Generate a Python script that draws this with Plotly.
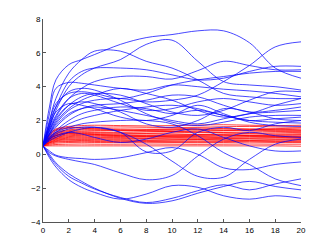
import plotly.graph_objects as go

# sample positions along x (time)
t = [0, 0.5, 1, 2, 3, 4, 6, 8, 10, 12, 14, 16, 18, 20]

# ---- blue trajectories (values at t) ----
b_D = [0.5, 2.8, 4.4, 5.3, 5.6, 5.9, 6.5, 6.9, 7.08, 7.3, 7.3, 6.6, 5.1, 4.5]
b_E = [0.5, 1.6, 2.6, 4.0, 4.7, 5.1, 5.6, 6.5, 6.75, 5.5, 4.3, 4.1, 4.0, 3.8]
b_B = [0.5, 2.0, 3.3, 4.8, 5.6, 6.1, 6.1, 5.5, 5.1, 4.4, 3.6, 3.4, 3.3, 3.3]
b_F = [0.5, 1.2, 1.8, 2.6, 3.0, 3.2, 3.3, 3.1, 3.2, 3.5, 4.3, 5.25, 6.35, 6.65]
b_G = [0.5, 1.4, 2.2, 3.3, 3.9, 4.3, 4.6, 4.6, 4.45, 4.95, 5.5, 5.25, 5.0, 5.0]
b_H = [0.5, 1.7, 2.8, 4.3, 4.9, 5.1, 5.1, 5.0, 4.7, 4.4, 4.5, 4.9, 5.2, 5.2]
b_I = [0.5, 2.4, 3.9, 4.25, 4.2, 4.1, 3.9, 3.8, 4.1, 4.0, 3.85, 3.75, 3.6, 3.4]
b_J = [0.5, 1.3, 2.0, 2.9, 3.4, 3.6, 3.5, 3.0, 2.5, 2.3, 2.6, 3.2, 3.7, 3.7]
b_K = [0.5, 1.5, 2.3, 3.3, 3.6, 3.5, 3.0, 2.6, 2.7, 3.1, 3.3, 3.1, 2.9, 3.0]
b_L = [0.5, 1.1, 1.6, 2.3, 2.7, 2.9, 3.0, 3.2, 3.5, 3.4, 2.9, 2.5, 2.6, 2.8]
b_M = [0.5, 1.2, 1.7, 2.4, 2.7, 2.8, 2.6, 2.3, 2.0, 1.8, 2.1, 2.4, 2.5, 2.6]
b_N = [0.5, 1.8, 2.8, 3.7, 3.9, 3.8, 3.2, 2.4, 1.9, 1.7, 1.9, 2.2, 2.3, 2.3]
b_O = [0.5, 1.0, 1.4, 2.0, 2.4, 2.6, 2.8, 2.7, 2.4, 2.6, 2.3, 2.0, 2.1, 2.2]
b_P = [0.5, 1.4, 2.1, 2.9, 3.1, 3.0, 2.5, 1.8, 1.6, 2.0, 2.7, 2.5, 2.1, 2.0]
b_Q = [0.5, 0.9, 1.3, 1.8, 2.1, 2.3, 2.6, 2.8, 2.9, 2.7, 2.3, 2.0, 1.9, 1.85]
b_R = [0.5, 1.6, 2.5, 3.0, 2.9, 2.7, 2.2, 2.0, 2.3, 2.9, 2.4, 1.9, 1.7, 1.65]
b_S = [0.5, 1.9, 3.0, 3.6, 3.7, 3.6, 3.3, 3.6, 4.1, 4.4, 4.6, 4.8, 4.9, 4.9]
b_T = [0.5, 1.2, 1.9, 2.7, 3.2, 3.5, 3.9, 3.6, 3.2, 2.6, 2.2, 2.4, 2.9, 3.3]
b_L1 = [0.5, -0.2, -0.75, -1.5, -1.95, -2.25, -2.65, -2.35, -1.85, -1.95, -2.45, -2.65, -2.45, -2.6]
b_L2 = [0.5, -0.1, -0.6, -1.3, -1.7, -2.05, -2.55, -2.85, -2.6, -2.15, -1.8, -2.1, -1.75, -1.45]
b_L3 = [0.5, 0.0, -0.5, -1.15, -1.6, -2.0, -2.6, -2.9, -2.75, -2.3, -1.9, -1.6, -1.9, -2.1]
b_L4 = [0.5, 0.1, -0.1, -0.3, -0.45, -0.6, -1.1, -1.5, -1.25, -0.1, 0.9, 1.3, 1.1, 1.0]
b_L5 = [0.5, 0.8, 1.0, 1.3, 1.5, 1.6, 1.3, 0.15, 0.2, 1.3, 1.6, 1.4, 1.8, 2.0]
b_L6 = [0.5, 0.9, 1.2, 1.5, 1.6, 1.6, 1.3, 0.6, -0.4, -1.3, -1.35, -0.3, 0.6, 0.9]
b_L7 = [0.5, 1.0, 1.3, 1.6, 1.8, 1.9, 2.0, 2.0, 1.8, 1.1, 0.1, -0.6, -1.45, -1.85]
b_L8 = [0.5, 0.2, -0.05, -0.2, -0.25, -0.3, -0.2, 0.1, 0.4, 0.0, -0.8, -0.9, -0.6, -0.45]
b_L9 = [0.5, 0.9, 1.1, 1.3, 1.2, 1.0, 0.7, 0.9, 1.3, 1.5, 1.0, 0.5, 0.2, 0.2]

blue = [b_D, b_E, b_B, b_F, b_G, b_H, b_I, b_J, b_K, b_L, b_M, b_N, b_O, b_P,
        b_Q, b_R, b_S, b_T, b_L1, b_L2, b_L3, b_L4, b_L5, b_L6, b_L7, b_L8, b_L9]

# ---- red trajectories ----
r01 = [0.5, 1.2, 1.5, 1.65, 1.7, 1.72, 1.7, 1.68, 1.7, 1.73, 1.75, 1.72, 1.7, 1.72]
r02 = [0.5, 1.1, 1.4, 1.55, 1.6, 1.6, 1.62, 1.6, 1.58, 1.6, 1.63, 1.65, 1.62, 1.6]
r03 = [0.5, 1.05, 1.3, 1.45, 1.5, 1.52, 1.5, 1.48, 1.5, 1.55, 1.52, 1.5, 1.52, 1.55]
r04 = [0.5, 1.0, 1.25, 1.4, 1.45, 1.45, 1.42, 1.45, 1.48, 1.45, 1.42, 1.45, 1.48, 1.45]
r05 = [0.5, 0.95, 1.2, 1.35, 1.38, 1.4, 1.4, 1.38, 1.35, 1.38, 1.4, 1.42, 1.4, 1.38]
r06 = [0.5, 0.95, 1.15, 1.3, 1.33, 1.32, 1.3, 1.33, 1.35, 1.32, 1.3, 1.32, 1.35, 1.33]
r07 = [0.5, 0.9, 1.1, 1.25, 1.28, 1.28, 1.25, 1.24, 1.27, 1.3, 1.28, 1.25, 1.27, 1.3]
r08 = [0.5, 0.9, 1.08, 1.2, 1.22, 1.22, 1.2, 1.22, 1.2, 1.18, 1.2, 1.22, 1.2, 1.22]
r09 = [0.5, 0.85, 1.02, 1.15, 1.18, 1.17, 1.15, 1.13, 1.15, 1.17, 1.15, 1.13, 1.15, 1.17]
r10 = [0.5, 0.85, 1.0, 1.1, 1.12, 1.12, 1.1, 1.12, 1.1, 1.08, 1.1, 1.12, 1.1, 1.1]
r11 = [0.5, 0.8, 0.95, 1.05, 1.07, 1.07, 1.05, 1.04, 1.06, 1.05, 1.03, 1.05, 1.07, 1.05]
r12 = [0.5, 0.8, 0.92, 1.0, 1.02, 1.01, 1.0, 1.02, 1.0, 0.98, 1.0, 1.02, 1.0, 0.98]
r13 = [0.5, 0.75, 0.88, 0.95, 0.97, 0.97, 0.95, 0.94, 0.96, 0.95, 0.93, 0.95, 0.97, 0.95]
r14 = [0.5, 0.72, 0.84, 0.9, 0.92, 0.92, 0.9, 0.92, 0.9, 0.88, 0.9, 0.92, 0.9, 0.9]
r15 = [0.5, 0.7, 0.8, 0.86, 0.87, 0.87, 0.85, 0.84, 0.86, 0.87, 0.85, 0.84, 0.86, 0.85]
r16 = [0.5, 0.68, 0.76, 0.8, 0.82, 0.81, 0.8, 0.81, 0.8, 0.79, 0.8, 0.82, 0.8, 0.8]
r17 = [0.5, 0.65, 0.72, 0.76, 0.77, 0.76, 0.75, 0.76, 0.75, 0.74, 0.75, 0.77, 0.76, 0.75]
r18 = [0.5, 0.6, 0.66, 0.7, 0.71, 0.7, 0.7, 0.71, 0.7, 0.69, 0.7, 0.72, 0.7, 0.7]
r19 = [0.5, 0.55, 0.58, 0.6, 0.61, 0.6, 0.6, 0.61, 0.6, 0.59, 0.6, 0.61, 0.6, 0.6]
r20 = [0.5, 0.5, 0.5, 0.5, 0.5, 0.5, 0.5, 0.5, 0.5, 0.5, 0.5, 0.5, 0.5, 0.48]
r21 = [0.5, 1.15, 1.45, 1.58, 1.55, 1.5, 1.45, 1.4, 1.42, 1.46, 1.5, 1.48, 1.45, 1.42]
r22 = [0.5, 0.9, 1.12, 1.25, 1.22, 1.18, 1.1, 1.05, 1.08, 1.12, 1.15, 1.1, 1.05, 1.02]

red = [r01, r02, r03, r04, r05, r06, r07, r08, r09, r10, r11,
       r12, r13, r14, r15, r16, r17, r18, r19, r20, r21, r22]

x_ticks = [0, 2, 4, 6, 8, 10, 12, 14, 16, 18, 20]
y_ticks = [-4, -2, 0, 2, 4, 6, 8]

fig = go.Figure()
for ys in red:
    fig.add_trace(go.Scatter(x=t, y=ys, mode="lines", line_shape="spline",
                             line=dict(color="rgba(255,0,0,0.75)", width=1),
                             hoverinfo="skip", showlegend=False))
for ys in blue:
    fig.add_trace(go.Scatter(x=t, y=ys, mode="lines", line_shape="spline",
                             line=dict(color="rgba(0,0,255,0.8)", width=0.9),
                             hoverinfo="skip", showlegend=False))

axis_common = dict(showgrid=False, zeroline=False, showline=True,
                   linecolor="#555555", linewidth=1, ticks="inside",
                   ticklen=3, tickcolor="#555555",
                   tickfont=dict(family="Liberation Sans, Arial", size=8, color="black"))

fig.update_layout(
    width=332, height=250,
    margin=dict(l=43, r=31, t=19, b=28),
    paper_bgcolor="white", plot_bgcolor="white",
    xaxis=dict(range=[0, 20], tickvals=x_ticks, **axis_common),
    yaxis=dict(range=[-4, 8], tickvals=y_ticks, **axis_common),
)

fig.write_html("out.html", config={"displayModeBar": False},
               post_script="document.body.style.margin='0';document.body.style.padding='0';")
